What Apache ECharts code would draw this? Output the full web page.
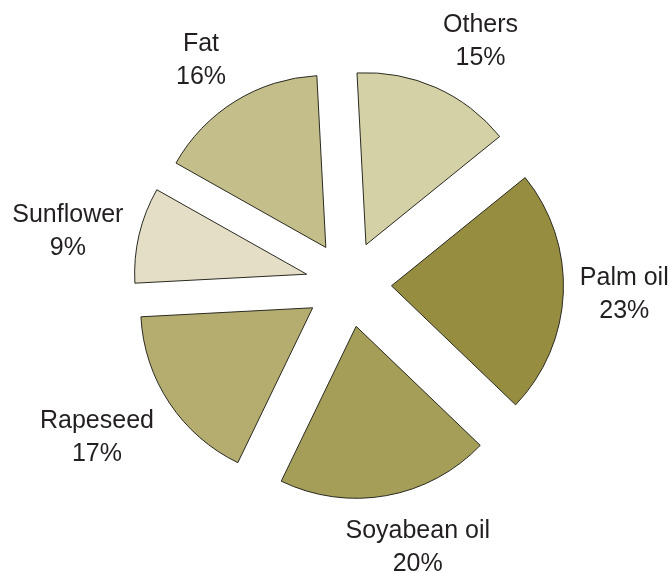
<!DOCTYPE html>
<html>
<head>
<meta charset="utf-8">
<script src="https://cdn.jsdelivr.net/npm/echarts@6/dist/echarts.min.js"></script>
<style>
html,body{margin:0;padding:0;background:#fff;}
#chart{width:672px;height:572px;}
</style>
</head>
<body>
<div id="chart"></div>
<script>
// Data (clockwise from top)
const categories = ['Others', 'Palm oil', 'Soyabean oil', 'Rapeseed', 'Sunflower', 'Fat'];
const shares = [15, 23, 20, 17, 9, 16];
const colors = ['#d5d1a6', '#978d40', '#a59e58', '#b5ad70', '#e3dec5', '#c4bf8a'];

// label fine-tuning (pixels), styling only
const labelNudge = [[19, 12], [-2, -1], [20, -10], [-20, 0], [-10, 11], [-1, 13]];

const chart = echarts.init(document.getElementById('chart'), null, {renderer: 'canvas'});
const center = [348.5, 284];
const option = {
  animation: false,
  backgroundColor: '#ffffff',
  series: [
    {
      type: 'pie',
      center: center,
      radius: 172,
      startAngle: 93,
      clockwise: true,
      selectedMode: 'multiple',
      selectedOffset: 43,
      avoidLabelOverlap: false,
      label: {show: false},
      labelLine: {show: false},
      emphasis: {disabled: true},
      itemStyle: {borderColor: '#2a2a22', borderWidth: 1},
      data: categories.map((n, i) => ({
        name: n,
        value: shares[i],
        selected: true,
        itemStyle: {color: colors[i]}
      }))
    },
    {
      type: 'pie',
      center: center,
      radius: 550,
      startAngle: 93,
      clockwise: true,
      silent: true,
      avoidLabelOverlap: false,
      itemStyle: {color: 'rgba(0,0,0,0)', borderWidth: 0},
      emphasis: {disabled: true},
      labelLine: {show: false},
      label: {
        show: true,
        position: 'inside',
        rotate: 0,
        formatter: '{b}\n{c}%',
        fontSize: 25,
        lineHeight: 33,
        color: '#231f20',
        fontFamily: '"Liberation Sans", Arial, Helvetica, sans-serif',
        align: 'center',
        verticalAlign: 'middle'
      },
      data: categories.map((n, i) => ({
        name: n,
        value: shares[i],
        label: {offset: labelNudge[i]}
      }))
    }
  ]
};
chart.setOption(option);
</script>
</body>
</html>
